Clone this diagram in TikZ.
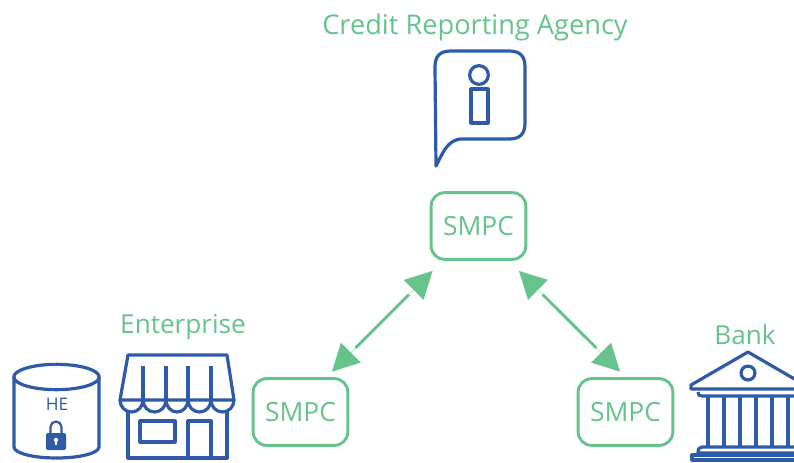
\documentclass[tikz,border=0pt]{standalone}
\usepackage{fontspec}
\setmainfont{Open Sans}
\usepackage{xcolor}
\usetikzlibrary{arrows.meta, positioning}
\definecolor{partycolor}{RGB}{102, 195, 140}
\definecolor{iconcolor}{RGB}{46, 90, 168}

\begin{document}
\begin{tikzpicture}[
    x=0.75pt, y=-0.75pt,
    smpcbox/.style={draw=partycolor, line width=2.2pt, rounded corners=10pt, minimum width=71pt, minimum height=50pt, inner sep=0pt, text=partycolor, font=\fontsize{19.8}{22}\selectfont},
    party/.style={text=partycolor, inner sep=0pt, font=\fontsize{19.6}{22}\selectfont},
    icon/.style={draw=iconcolor, line width=2.4pt, line join=round},
    exchange/.style={draw=partycolor, line width=2.2pt, shorten >=25pt, shorten <=25pt,
        preaction={draw=partycolor, fill=partycolor, line width=0.05pt, shorten >=0pt, shorten <=0pt, {Stealth[inset=0pt, length=20pt, width=21pt]}-{Stealth[inset=0pt, length=20pt, width=21pt]}}}
]
    \useasboundingbox (0,0) rectangle (794,462);
    \clip (0,0) rectangle (794,462);

    % Parties
    \node[party, font=\fontsize{20.4}{22}\selectfont] (agencylabel) at (475, 27) {Credit Reporting Agency};
    \node[party] (enterpriselabel) at (183, 327) {Enterprise};
    \node[party] (banklabel) at (745, 335) {Bank};

    % SMPC boxes
    \node[smpcbox] (smpcagency) at (478.5, 226) {SMPC};
    \node[smpcbox] (smpcenterprise) at (300.5, 412) {SMPC};
    \node[smpcbox] (smpcbank) at (625.5, 412) {SMPC};

    % Arrow ends
    \coordinate (agencyleft) at (432.5, 271);
    \coordinate (enterpriseend) at (332, 371.5);
    \coordinate (agencyright) at (519, 271);
    \coordinate (bankend) at (620, 371.5);
    \draw[exchange] (agencyleft) -- (enterpriseend);
    \draw[exchange] (agencyright) -- (bankend);

    % Info bubble
    \draw[icon] (436, 166) .. controls (442, 155) and (447, 139) .. (462, 139) -- (509, 139)
        .. controls (520, 139) and (525, 134) .. (525, 123) -- (525, 67)
        .. controls (525, 56) and (520, 51) .. (509, 51) -- (451, 51)
        .. controls (440, 51) and (435, 56) .. (435, 67) -- cycle;
    \draw[icon] (479, 75) circle (7pt);
    \draw[icon] (471, 89) rectangle (488, 123);

    % Encrypted database
    \draw[icon] (56.5, 377) ellipse (32pt and 9.5pt);
    \draw[icon] (14, 377) -- (14, 447) arc[start angle=180, end angle=0, x radius=42.5, y radius=11] -- (99, 377);
    \node[text=iconcolor, inner sep=0pt, font=\fontsize{13}{15}\selectfont] (helabel) at (57, 404) {HE};
    \draw[iconcolor, line width=1.6pt] (50.5, 436) -- (50.5, 427) arc[start angle=180, end angle=360, radius=5.5] -- (61.5, 436);
    \fill[iconcolor, rounded corners=1.5pt] (46, 433) rectangle (66, 450);
    \fill[white] (56, 440) circle (1.6pt);
    \draw[white, line width=1.2pt] (56, 440) -- (56, 445);

    % Enterprise shop
    \draw[icon] (120, 400) -- (128, 355) -- (227, 355) -- (234, 400) -- cycle;
    \foreach \xpos in {143, 166, 188, 211} {
        \draw[icon] (\xpos, 366) -- (\xpos, 400);
    }
    \draw[icon] (120, 400) arc[start angle=180, end angle=360, x radius=11.5, y radius=-12]
        arc[start angle=180, end angle=360, x radius=11.5, y radius=-12]
        arc[start angle=180, end angle=360, x radius=11, y radius=-12]
        arc[start angle=180, end angle=360, x radius=11.5, y radius=-12]
        arc[start angle=180, end angle=360, x radius=11.5, y radius=-12];
    \draw[icon] (128, 411) -- (128, 458) -- (227, 458) -- (227, 411);
    \draw[icon] (140, 421) rectangle (175, 442);
    \draw[icon] (188, 458) -- (188, 421) -- (211, 421) -- (211, 458);

    % Bank
    \draw[icon] (810, 389) -- (691, 389) -- (691, 385) -- (748, 352) -- (810, 388);
    \draw[icon] (748, 373) circle (5.2pt);
    \draw[icon] (698, 392) .. controls (698, 395) and (699, 396) .. (702, 396) -- (810, 396);
    \foreach \xpos in {708, 724, 740, 756, 772, 788} {
        \draw[icon] (\xpos, 396) -- (\xpos, 447);
    }
    \draw[icon] (810, 447) -- (702, 447) .. controls (699, 447) and (698, 449) .. (698, 453) -- (810, 453);
    \draw[icon] (810, 455) -- (692, 455) -- (692, 460) -- (810, 460);
\end{tikzpicture}
\end{document}
